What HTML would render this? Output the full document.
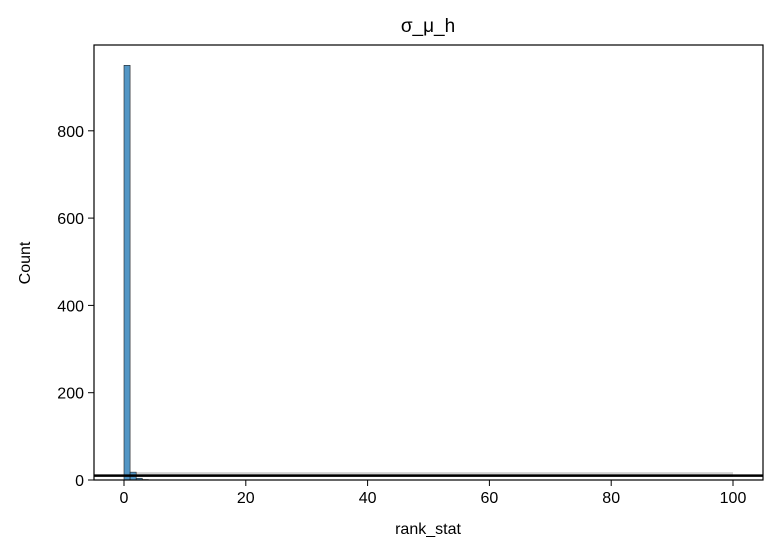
<!DOCTYPE html>
<html><head><meta charset="utf-8"><style>body{margin:0;background:#fff}svg{display:block}text{font-family:"Liberation Sans",sans-serif;fill:#000}</style></head>
<body>
<svg id="c" width="777" height="555">
<rect x="0" y="0" width="777" height="555" fill="#fff"/>
<g id="plot"></g>
<text x="428" y="32" font-size="19" text-anchor="middle">σ_μ_h</text>
<text x="428" y="534" font-size="16" text-anchor="middle">rank_stat</text>
<text transform="translate(30,263) rotate(-90)" font-size="16" text-anchor="middle">Count</text>
</svg>
<script>
const binStarts=[0,1,2,3];
const counts=[950,18,4,1];
const xTicks=[0,20,40,60,80,100];
const yTicks=[0,200,400,600,800];
const refLine=[10];
const band=[7,18];
const L=94,R=763,T=45,B=480;
const xs=v=>124+v*6.09, ys=v=>B-v*0.4365;
const g=document.getElementById('plot');
const NS='http://www.w3.org/2000/svg';
function mk(t,a){const e=document.createElementNS(NS,t);for(const k in a)e.setAttribute(k,a[k]);g.appendChild(e);return e;}
let e=mk('rect',{x:xs(0),y:ys(band[1]),width:xs(100)-xs(0),height:ys(band[0])-ys(band[1]),fill:'#d3d3d3'});


binStarts.forEach((b,i)=>{const r=mk('rect',{x:xs(b),y:ys(counts[i]),width:xs(b+1)-xs(b),height:B-ys(counts[i]),fill:'#4a90c2','fill-opacity':0.95,stroke:'#222','stroke-width':0.6});

});
e=mk('line',{x1:L,x2:R,y1:ys(refLine[0]),y2:ys(refLine[0]),stroke:'#000','stroke-width':2.5});


e=mk('rect',{x:L,y:T,width:R-L,height:B-T,fill:'none',stroke:'#000','stroke-width':1.2});


xTicks.forEach(t=>{mk('line',{x1:xs(t),x2:xs(t),y1:B,y2:B+6,stroke:'#000'});
const tx=mk('text',{x:xs(t),y:B+23,'font-size':16,'text-anchor':'middle'});tx.textContent=t;

});
yTicks.forEach(t=>{mk('line',{x1:L-6,x2:L,y1:ys(t),y2:ys(t),stroke:'#000'});
const tx=mk('text',{x:L-10,y:ys(t)+6,'font-size':16,'text-anchor':'end'});tx.textContent=t;

});
</script>
</body></html>
